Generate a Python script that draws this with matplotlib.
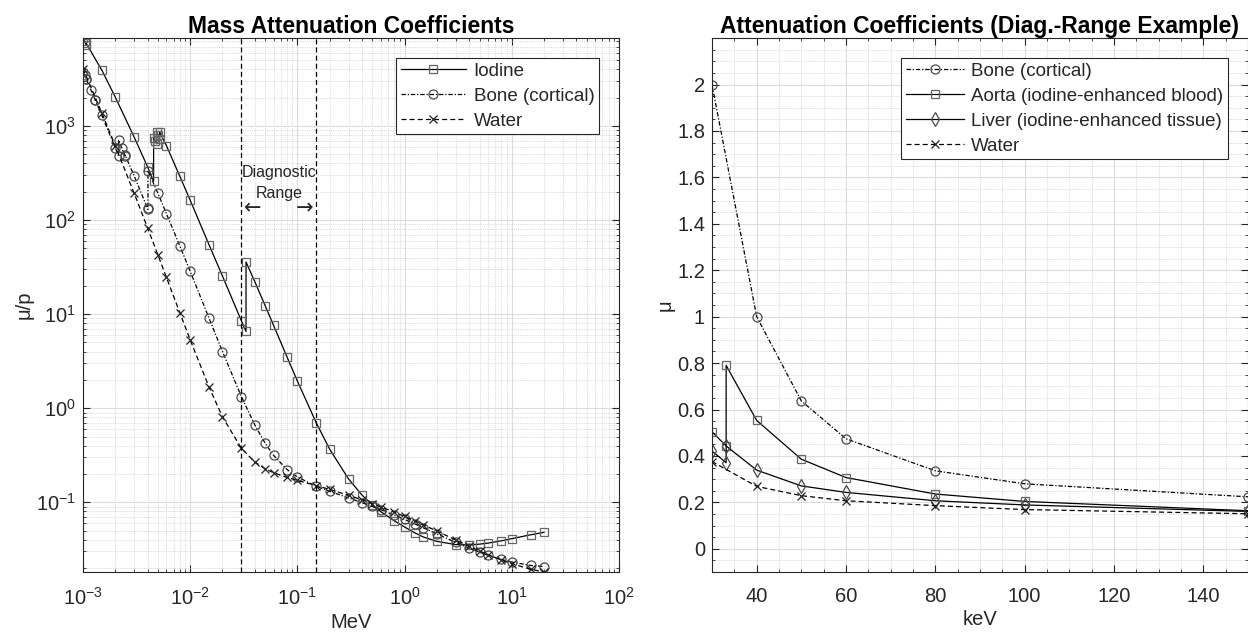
import numpy as np
import matplotlib
matplotlib.use("Agg")
import matplotlib.pyplot as plt
from matplotlib.ticker import LogLocator, MultipleLocator, NullFormatter

plt.rcParams['font.family'] = ['Liberation Sans', 'DejaVu Sans']
plt.rcParams['mathtext.fontset'] = 'custom'
plt.rcParams['mathtext.rm'] = 'Liberation Sans'
plt.rcParams['mathtext.it'] = 'Liberation Sans:italic'
plt.rcParams['mathtext.bf'] = 'Liberation Sans:bold'

# ---------------- Left panel data (MeV, mass attenuation) ----------------
iodine_E = [1.0e-3, 1.03542e-3, 1.0721e-3, 1.0721e-3, 1.5e-3, 2.0e-3, 3.0e-3, 4.0e-3,
            4.5571e-3, 4.5571e-3, 4.70229e-3, 4.8521e-3, 4.8521e-3, 5.0e-3, 5.188e-3, 5.188e-3,
            6.0e-3, 8.0e-3, 1.0e-2, 1.5e-2, 2.0e-2, 3.0e-2, 3.31694e-2, 3.31694e-2,
            4.0e-2, 5.0e-2, 6.0e-2, 8.0e-2, 1.0e-1, 1.5e-1, 2.0e-1, 3.0e-1, 4.0e-1,
            5.0e-1, 6.0e-1, 8.0e-1, 1.0, 1.25, 1.5, 2.0, 3.0, 4.0, 5.0, 6.0, 8.0,
            10.0, 15.0, 20.0]
iodine_mu = [8609, 7948, 7338, 7555, 3917, 2032, 763.3, 369.1,
             260.1, 749.2, 695.9, 646.5, 862.4, 806.3, 731.8, 859.2,
             618.6, 292.5, 162.5, 54.5, 25.43, 8.501, 6.551, 35.89,
             22.22, 12.33, 7.579, 3.51, 1.942, 0.6978, 0.3663, 0.1771, 0.1193,
             0.09378, 0.0795, 0.06359, 0.05457, 0.04722, 0.04269, 0.03843, 0.03544,
             0.03523, 0.03588, 0.0368, 0.03895, 0.04103, 0.04513, 0.04798]

bone_E = [1.0e-3, 1.03542e-3, 1.0721e-3, 1.0721e-3, 1.18283e-3, 1.305e-3, 1.305e-3,
          1.5e-3, 2.0e-3, 2.1455e-3, 2.1455e-3, 2.30297e-3, 2.472e-3, 2.472e-3,
          3.0e-3, 4.0e-3, 4.0381e-3, 4.0381e-3, 5.0e-3, 6.0e-3, 8.0e-3, 1.0e-2,
          1.5e-2, 2.0e-2, 3.0e-2, 4.0e-2, 5.0e-2, 6.0e-2, 8.0e-2, 1.0e-1, 1.5e-1,
          2.0e-1, 3.0e-1, 4.0e-1, 5.0e-1, 6.0e-1, 8.0e-1, 1.0, 1.25, 1.5, 2.0,
          3.0, 4.0, 5.0, 6.0, 8.0, 10.0, 15.0, 20.0]
bone_mu = [3781, 3452, 3150, 3156, 2434, 1873, 1883,
           1295, 586.9, 482.4, 712.4, 584.8, 478.7, 489.4,
           295.8, 133.1, 129.9, 334.5, 192.4, 117.1, 53.23, 28.51,
           9.032, 4.001, 1.331, 0.6655, 0.4242, 0.3148, 0.2229, 0.1855, 0.148,
           0.1309, 0.1113, 0.09908, 0.09022, 0.08332, 0.07308, 0.06566, 0.05871, 0.05346, 0.04607,
           0.03745, 0.03257, 0.02946, 0.02734, 0.02467, 0.02314, 0.02132, 0.02068]

water_E = [1.0e-3, 1.5e-3, 2.0e-3, 3.0e-3, 4.0e-3, 5.0e-3, 6.0e-3, 8.0e-3, 1.0e-2,
           1.5e-2, 2.0e-2, 3.0e-2, 4.0e-2, 5.0e-2, 6.0e-2, 8.0e-2, 1.0e-1, 1.5e-1,
           2.0e-1, 3.0e-1, 4.0e-1, 5.0e-1, 6.0e-1, 8.0e-1, 1.0, 1.25, 1.5, 2.0,
           3.0, 4.0, 5.0, 6.0, 8.0, 10.0, 15.0, 20.0]
water_mu = [4078, 1376, 617.3, 192.9, 82.78, 42.58, 24.64, 10.37, 5.329,
            1.673, 0.8096, 0.3756, 0.2683, 0.2269, 0.2059, 0.1837, 0.1707, 0.1505,
            0.137, 0.1186, 0.1061, 0.09687, 0.08956, 0.07865, 0.07072, 0.06323, 0.05754, 0.04942,
            0.03969, 0.03403, 0.03031, 0.0277, 0.02429, 0.02219, 0.01941, 0.01813]

diag_lo, diag_hi = 0.03, 0.15

# ---------------- Right panel data (keV, linear attenuation) ----------------
edge_E = [30, 33.17, 33.17, 40, 50, 60, 80, 100, 150]
aorta_mu = [0.504, 0.443, 0.79, 0.553, 0.386, 0.307, 0.236, 0.204, 0.164]
liver_mu = [0.421, 0.371, 0.443, 0.339, 0.271, 0.243, 0.207, 0.189, 0.161]
plain_E = [30, 40, 50, 60, 80, 100, 150]
bone2_mu = [2.0, 1.0, 0.637, 0.474, 0.336, 0.28, 0.224]
water2_mu = [0.376, 0.269, 0.229, 0.207, 0.186, 0.169, 0.151]

FS = 14.5
LFS = 13.5
TFS = 16.5
TXT = '#262626'
fig = plt.figure(figsize=(12.48, 6.41), dpi=100)
ax1 = fig.add_axes([0.0665, 0.1076, 0.4295, 0.833])
ax2 = fig.add_axes([0.5705, 0.1076, 0.4295, 0.833])

mk_edge = '#4a4a4a'
lw = 0.9
dashdot = (0, (3.5, 1.5, 1, 1.5))
dashed = (0, (4, 2.5))

def style_axes(ax):
    ax.set_axisbelow(True)
    ax.grid(True, which='major', color='#dcdcdc', linewidth=0.8, linestyle='-')
    ax.grid(True, which='minor', color='#d0d0d0', linewidth=0.6, linestyle=(0, (1, 1.2)))
    ax.tick_params(which='both', direction='in', top=True, right=True, labelsize=FS,
                   color=TXT, labelcolor=TXT)
    ax.tick_params(which='major', length=5, width=0.8)
    ax.tick_params(which='minor', length=2.5, width=0.6)
    ax.tick_params(axis='x', which='major', pad=11)
    ax.tick_params(axis='y', which='major', pad=5)
    for s in ax.spines.values():
        s.set_color(TXT)
        s.set_linewidth(0.8)

def style_legend(ax, hl):
    leg = ax.legend(loc='upper right', bbox_to_anchor=(0.963, 0.963), fontsize=LFS,
                    handlelength=hl, frameon=True, fancybox=False, borderpad=0.25,
                    labelspacing=0.42, handletextpad=0.4, borderaxespad=0)
    leg.get_frame().set_edgecolor(TXT)
    leg.get_frame().set_linewidth(0.8)
    leg.get_frame().set_alpha(1)
    for t in leg.get_texts():
        t.set_color(TXT)

sq = dict(marker='s', markersize=5.5, markerfacecolor='none', markeredgecolor='#666666',
          markeredgewidth=0.9)
ci = dict(marker='o', markersize=6.5, markerfacecolor='none', markeredgecolor=mk_edge,
          markeredgewidth=0.9)
xx = dict(marker='x', markersize=6, markeredgecolor='#222222', markeredgewidth=0.9)
di = dict(marker='d', markersize=7, markerfacecolor='none', markeredgecolor=mk_edge,
          markeredgewidth=0.9)

# Left panel
ax1.plot(iodine_E, iodine_mu, color='black', lw=lw, linestyle='-', label='Iodine', **sq)
ax1.plot(bone_E, bone_mu, color='black', lw=lw, linestyle=dashdot, label='Bone (cortical)', **ci)
ax1.plot(water_E, water_mu, color='black', lw=lw, linestyle=dashed, label='Water', **xx)
ax1.set_xscale('log')
ax1.set_yscale('log')
ax1.set_xlim(1e-3, 1e2)
ax1.set_ylim(min(water_mu), max(iodine_mu))
for xv in (diag_lo, diag_hi):
    ax1.axvline(xv, color='black', lw=0.9, linestyle=dashed)
xc = np.sqrt(diag_lo * diag_hi)
ax1.text(xc, 320, 'Diagnostic', ha='center', va='center', fontsize=11.5, color=TXT)
ax1.text(xc, 190, 'Range', ha='center', va='center', fontsize=11.5, color=TXT)
ax1.text(diag_lo * 1.07, 132, '\u2190', ha='left', va='center', fontsize=15, color=TXT,
         family=['DejaVu Sans'])
ax1.text(diag_hi / 1.07, 132, '\u2192', ha='right', va='center', fontsize=15, color=TXT,
         family=['DejaVu Sans'])
ax1.xaxis.set_major_locator(LogLocator(base=10, numticks=10))
ax1.xaxis.set_minor_locator(LogLocator(base=10, subs=np.arange(2, 10), numticks=20))
ax1.xaxis.set_minor_formatter(NullFormatter())
ax1.set_yticks([1e-1, 1e0, 1e1, 1e2, 1e3])
ax1.yaxis.set_minor_locator(LogLocator(base=10, subs=np.arange(2, 10), numticks=20))
ax1.yaxis.set_minor_formatter(NullFormatter())
style_axes(ax1)
ax1.set_xlabel('MeV', fontsize=FS, color=TXT, labelpad=3)
ax1.set_ylabel('\u03bc/p', fontsize=FS, color=TXT, labelpad=2)
ax1.set_title('Mass Attenuation Coefficients', fontsize=TFS, fontweight='bold', pad=4)
style_legend(ax1, 3.5)

# Right panel
ax2.plot(plain_E, bone2_mu, color='black', lw=lw, linestyle=dashdot, label='Bone (cortical)', **ci)
ax2.plot(edge_E, aorta_mu, color='black', lw=lw, linestyle='-',
         label='Aorta (iodine-enhanced blood)', **sq)
ax2.plot(edge_E, liver_mu, color='black', lw=lw, linestyle='-',
         label='Liver (iodine-enhanced tissue)', **di)
ax2.plot(plain_E, water2_mu, color='black', lw=lw, linestyle=dashed, label='Water', **xx)
ax2.set_xlim(30, 150)
ax2.set_ylim(-0.1, 2.2)
ax2.xaxis.set_minor_locator(MultipleLocator(5))
ax2.yaxis.set_minor_locator(MultipleLocator(0.05))
ax2.set_xticks([40, 60, 80, 100, 120, 140])
ax2.set_yticks([0, 0.2, 0.4, 0.6, 0.8, 1.0, 1.2, 1.4, 1.6, 1.8, 2.0])
ax2.set_yticklabels(['0', '0.2', '0.4', '0.6', '0.8', '1', '1.2', '1.4', '1.6', '1.8', '2'])
style_axes(ax2)
ax2.set_xlabel('keV', fontsize=FS, color=TXT, labelpad=3)
ax2.set_ylabel('\u03bc', fontsize=FS, color=TXT, labelpad=2)
ax2.set_title('Attenuation Coefficients (Diag.-Range Example)', fontsize=TFS,
              fontweight='bold', pad=4)
style_legend(ax2, 3.1)

fig.savefig('out.png', dpi=100)
